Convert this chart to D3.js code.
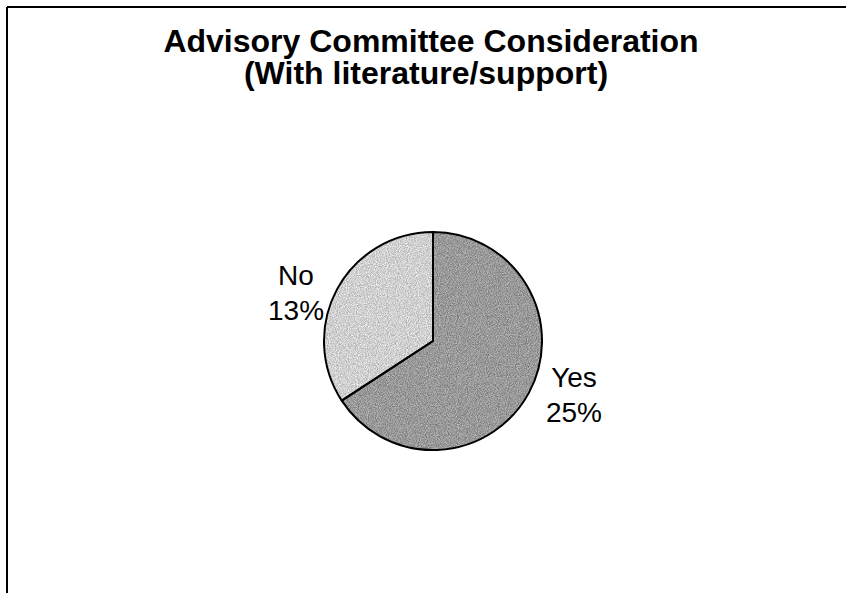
<!DOCTYPE html>
<html>
<head>
<meta charset="utf-8">
<script src="https://cdn.jsdelivr.net/npm/d3@7"></script>
<style>
  html, body { margin: 0; padding: 0; background: #fff; }
  svg { display: block; }
  text { font-family: "Liberation Sans", Arial, Helvetica, sans-serif; fill: #000; }
</style>
</head>
<body>
<svg id="chart" width="846" height="593"></svg>
<script>
// Chart data
const titleLines = ["Advisory Committee Consideration", "(With literature/support)"];
const categories = ["Yes", "No"];
const values = [25, 13];
const valueLabels = ["25%", "13%"];
const sliceColors = ["#999999", "#d0d0d0"];

const W = 846, H = 593;
const svg = d3.select("#chart");

// Fine grain texture for the slice fills
const defs = svg.append("defs");
const grain = defs.append("filter")
  .attr("id", "grain")
  .attr("x", 0).attr("y", 0).attr("width", 1).attr("height", 1)
  .attr("color-interpolation-filters", "sRGB");
grain.append("feTurbulence")
  .attr("type", "fractalNoise").attr("baseFrequency", 1.1)
  .attr("numOctaves", 1).attr("seed", 3).attr("result", "noise");
grain.append("feColorMatrix")
  .attr("in", "noise").attr("type", "matrix")
  .attr("values", "1 0 0 0 0  1 0 0 0 0  1 0 0 0 0  0 0 0 0 1")
  .attr("result", "grey");
grain.append("feComposite")
  .attr("in", "SourceGraphic").attr("in2", "grey")
  .attr("operator", "arithmetic")
  .attr("k1", 0).attr("k2", 1).attr("k3", 0.55).attr("k4", -0.275)
  .attr("result", "mixed");
grain.append("feComposite")
  .attr("in", "mixed").attr("in2", "SourceGraphic").attr("operator", "in");

// Frame lines along the top and left edges
svg.append("line").attr("x1", 7).attr("y1", 7).attr("x2", W).attr("y2", 7)
  .attr("stroke", "#000").attr("stroke-width", 2);
svg.append("line").attr("x1", 7).attr("y1", 7).attr("x2", 7).attr("y2", H)
  .attr("stroke", "#000").attr("stroke-width", 2);

// Title
const title = svg.append("text")
  .attr("text-anchor", "middle")
  .style("font-weight", "bold")
  .style("font-size", "32px");
title.selectAll("tspan").data(titleLines).join("tspan")
  .attr("x", (d, i) => i === 0 ? 431 : 426)
  .attr("y", (d, i) => 52 + i * 32)
  .text(d => d);

// Pie
const cx = 433, cy = 341, radius = 109;
const pie = d3.pie().sort(null).value(d => d.value);
const arc = d3.arc().innerRadius(0).outerRadius(radius);
const data = categories.map((c, i) => ({ name: c, value: values[i], label: valueLabels[i], color: sliceColors[i] }));
const arcs = pie(data);

const g = svg.append("g").attr("transform", `translate(${cx},${cy})`);
g.selectAll("path.slice").data(arcs).join("path")
  .attr("class", "slice")
  .attr("d", arc)
  .attr("fill", d => d.data.color)
  .attr("filter", "url(#grain)");
g.selectAll("path.edge").data(arcs).join("path")
  .attr("class", "edge")
  .attr("d", arc)
  .attr("fill", "none")
  .attr("stroke", "#000")
  .attr("stroke-width", 2)
  .attr("stroke-linejoin", "round");

// Category labels outside the pie
const labelOffsets = { Yes: [141, 46], No: [-137, -56] };
const labels = g.selectAll("text.lbl").data(arcs).join("text")
  .attr("class", "lbl")
  .attr("text-anchor", "middle")
  .style("font-size", "28px");
labels.append("tspan")
  .attr("x", d => labelOffsets[d.data.name][0])
  .attr("y", d => labelOffsets[d.data.name][1])
  .text(d => d.data.name);
labels.append("tspan")
  .attr("x", d => labelOffsets[d.data.name][0])
  .attr("y", d => labelOffsets[d.data.name][1] + 35)
  .text(d => d.data.label);
</script>
</body>
</html>
